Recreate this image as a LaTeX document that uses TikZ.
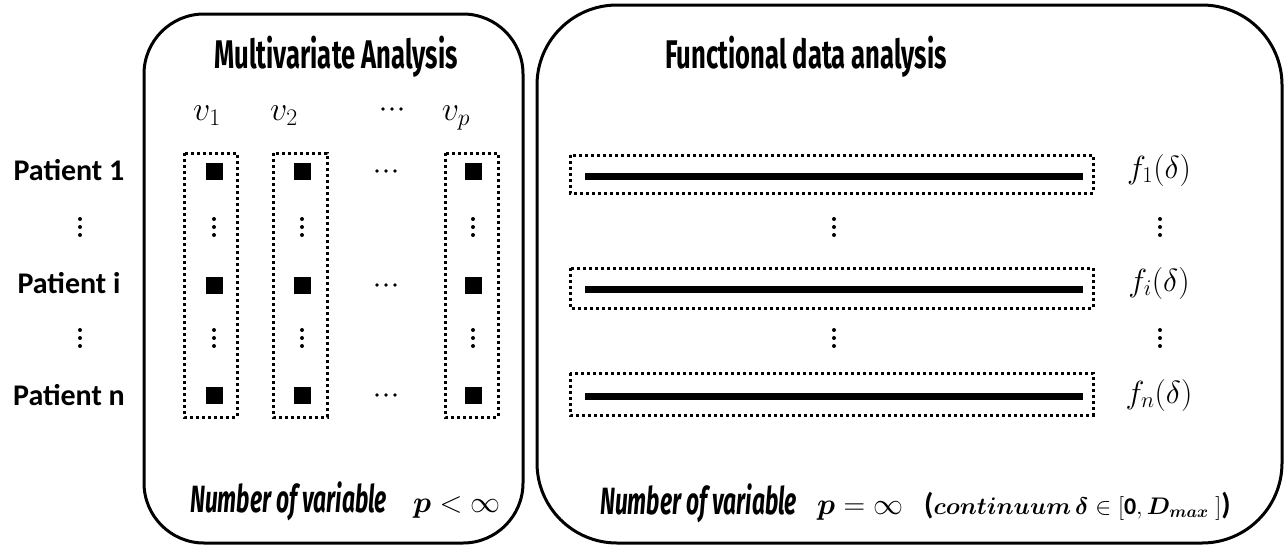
\RequirePackage{fix-cm}
\documentclass[tikz,border=0pt]{standalone}
\usepackage{bm}
\usepackage{fontspec}
\setmainfont{Carlito}
\newfontfamily\condfont[FakeStretch=0.64]{Fira Sans}
\newfontfamily\countfont[FakeStretch=0.6]{Fira Sans}

\newcommand{\vdotsat}[2]{\fill (#1,#2-8) circle (2) (#1,#2) circle (2) (#1,#2+8) circle (2);}
\newcommand{\hdotsat}[2]{\fill (#1-9,#2) circle (1.9) (#1,#2) circle (1.9) (#1+9,#2) circle (1.9);}

\tikzset{
    panel/.style={line width=3pt},
    colbox/.style={line width=3pt, dash pattern=on 3pt off 3pt},
    cell/.style={fill=black, inner sep=0pt, minimum size=17pt},
    curve/.style={line width=7pt},
    rowlab/.style={font=\fontsize{30}{36}\selectfont\bfseries, anchor=base, inner sep=0pt},
    mlab/.style={font=\fontsize{34}{40}\selectfont, anchor=base, inner sep=0pt},
    flab/.style={font=\fontsize{32}{38}\selectfont, anchor=base, inner sep=0pt},
    head/.style={font=\condfont\bfseries\fontsize{40}{44}\selectfont, anchor=base, inner sep=0pt},
    countlab/.style={font=\countfont\bfseries\itshape\fontsize{38}{42}\selectfont, anchor=base west, inner sep=0pt},
    countmath/.style={font=\fontsize{30}{36}\selectfont, anchor=base west, inner sep=0pt}
}

\begin{document}
\begin{tikzpicture}[x=1pt, y=-1pt]
                    \useasboundingbox (0,0) rectangle (1284,546);

                    %%panels
                    \draw[panel, rounded corners=60pt] (144,14) rectangle (523,543);
                    \draw[panel, rounded corners=80pt] (537,5) rectangle (1282,543);

                    %%titles
                    \node[head] (multi) at (336,68){Multivariate Analysis};
                    \node[head] (func) at (806,68){Functional data analysis};

                    %%variables above
                    \node[mlab] (v1) at (207,120){$v_1$};
                    \node[mlab] (v2) at (284,120){$v_2$};
                    \hdotsat{392}{109}
                    \node[mlab] (vp) at (456,120){$v_p$};

                    %%rows
                    \node[rowlab] (pat1) at (69,180){Patient 1};
                    \vdotsat{80}{227}
                    \node[rowlab] (pati) at (69,293){Patient i};
                    \vdotsat{80}{338}
                    \node[rowlab] (patn) at (69,405){Patient n};

                    %%columns
                    \draw[colbox] (184,153) rectangle (237,417);
                        \node[cell] (c11) at (214,171){};
                        \vdotsat{214}{227}
                        \node[cell] (c1i) at (214,285){};
                        \vdotsat{214}{338}
                        \node[cell] (c1n) at (214,395){};
                    \draw[colbox] (273,153) rectangle (327,417);
                        \node[cell] (c21) at (302,171){};
                        \vdotsat{302}{227}
                        \node[cell] (c2i) at (302,285){};
                        \vdotsat{302}{338}
                        \node[cell] (c2n) at (302,395){};
                    \hdotsat{386}{171}
                    \hdotsat{386}{285}
                    \hdotsat{386}{395}
                    \draw[colbox] (445,153) rectangle (498,417);
                        \node[cell] (cp1) at (473,171){};
                        \vdotsat{473}{227}
                        \node[cell] (cpi) at (473,285){};
                        \vdotsat{473}{338}
                        \node[cell] (cpn) at (473,395){};

                    %%curves
                    \draw[colbox] (570,155) rectangle (1093,193);
                        \draw[curve] (585,176) to (1083,176);
                        \node[flab] (f1) at (1159,178){$f_1(\delta)$};
                    \vdotsat{834}{227}
                    \vdotsat{1160}{227}
                    \draw[colbox] (570,268) rectangle (1093,308);
                        \draw[curve] (585,289) to (1083,289);
                        \node[flab] (fi) at (1159,291){$f_i(\delta)$};
                    \vdotsat{834}{338}
                    \vdotsat{1160}{338}
                    \draw[colbox] (570,373) rectangle (1093,415);
                        \draw[curve] (585,396) to (1083,396);
                        \node[flab] (fn) at (1159,403){$f_n(\delta)$};

                    %%number of variables
                    \node[countlab] (numL) at (190,512){Number of variable};
                    \node[countmath] (finL) at (413,512){$\bm{p} < \infty$};
                    \node[countlab] (numR) at (600,514){Number of variable};
                    \node[countmath] (infR) at (817,514){$\bm{p} = \infty$};
                    \node[countmath, font=\fontsize{24}{30}\selectfont] (contR) at (924,514){\textbf{\fontsize{30}{30}\selectfont(}$\bm{continuum}\,\bm{\delta} \in [\mathbf{0}, \bm{D_{max}}\;]$\textbf{\fontsize{30}{30}\selectfont)}};

\end{tikzpicture}
\end{document}
